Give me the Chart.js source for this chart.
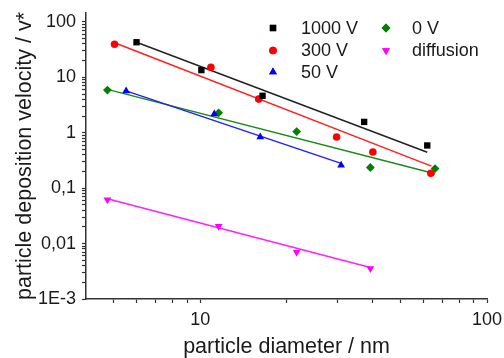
<!DOCTYPE html>
<html>
<head>
<meta charset="utf-8">
<script src="https://cdn.jsdelivr.net/npm/chart.js@4"></script>
<style>
  html, body { margin: 0; padding: 0; background: #fff; }
  #wrap { width: 504px; height: 358px; }
</style>
</head>
<body>
<div id="wrap"><canvas id="chart" width="504" height="358"></canvas></div>
<script>
// measured points (particle diameter in nm, deposition velocity / v*)
const x1000 = [6.0, 10.1, 16.5, 37.3, 61.9];
const y1000 = [43, 13.5, 4.65, 1.57, 0.59];
const x300 = [5.03, 10.9, 16.0, 29.9, 40.0, 63.7];
const y300 = [39.5, 15.2, 4.05, 0.84, 0.45, 0.186];
const x50 = [5.52, 11.2, 16.2, 31.0];
const y50 = [5.7, 2.17, 0.84, 0.26];
const x0 = [4.75, 11.6, 21.7, 39.2, 65.9];
const y0 = [5.9, 2.29, 1.05, 0.236, 0.226];
const xDiff = [4.75, 11.6, 21.7, 39.2];
const yDiff = [0.062, 0.0205, 0.0070, 0.00356];

// fitted lines, start and end points
const fitX1000 = [6.0, 61.9];
const fitY1000 = [43, 0.445];
const fitX300 = [5.03, 64.0];
const fitY300 = [42, 0.25];
const fitX50 = [5.52, 31.0];
const fitY50 = [5.7, 0.28];
const fitX0 = [4.75, 65.9];
const fitY0 = [6.07, 0.182];
const fitXDiff = [4.75, 39.2];
const fitYDiff = [0.0645, 0.0037];

const seriesNames = ["1000 V", "300 V", "50 V", "0 V", "diffusion"];

const xTickValues = [10, 100];
const xTickLabels = ["10", "100"];
const yTickValues = [100, 10, 1, 0.1, 0.01, 0.001];
const yTickLabels = ["100", "10", "1", "0,1", "0,01", "1E-3"];

const FONT = "'Liberation Sans', Arial, sans-serif";
const TEXT = "#1a1a1a";

function pts(xs, ys) {
  return xs.map((x, i) => ({ x: x, y: ys[i] }));
}

function labelFor(value, vals, labels) {
  for (let i = 0; i < vals.length; i++) {
    if (Math.abs(Math.log10(value) - Math.log10(vals[i])) < 1e-6) return labels[i];
  }
  return "";
}

// only draw tick marks at 1..9 x 10^n
function niceTick(value, skip) {
  if (skip !== undefined && Math.abs(value - skip) < 1e-9) return false;
  const e = Math.floor(Math.log10(value) + 1e-9);
  const s = value / Math.pow(10, e);
  return Math.abs(s - Math.round(s)) < 1e-6;
}

function markerSet(name, xs, ys, color, style, radius, rotation) {
  return {
    label: name,
    data: pts(xs, ys),
    showLine: false,
    pointStyle: style,
    pointRadius: radius,
    pointHoverRadius: radius,
    pointRotation: rotation || 0,
    pointBackgroundColor: color,
    pointBorderColor: color,
    pointBorderWidth: 0,
    order: 0,
  };
}

function fitSet(xs, ys, color) {
  return {
    label: "fit",
    data: pts(xs, ys),
    showLine: true,
    borderColor: color,
    borderWidth: 1.5,
    pointRadius: 0,
    fill: false,
    order: 1,
  };
}

// legend in two columns inside the plot
const legendPlugin = {
  id: "boxLegend",
  afterDraw(chart) {
    const ctx = chart.ctx;
    const cols = [{ mx: 273, tx: 301 }, { mx: 386, tx: 412 }];
    const rows = [28, 50.5, 72];
    const sets = chart.data.datasets.filter((d) => d.label !== "fit");
    ctx.save();
    ctx.font = "18px " + FONT;
    ctx.textBaseline = "middle";
    ctx.fillStyle = TEXT;
    sets.forEach((d, i) => {
      const col = cols[Math.floor(i / 3)];
      const y = rows[i % 3];
      ctx.fillStyle = d.pointBackgroundColor;
      Chart.helpers.drawPoint(ctx, {
        pointStyle: d.pointStyle,
        radius: d.pointRadius,
        rotation: d.pointRotation,
        borderWidth: 0,
      }, col.mx, y);
      ctx.fill();
      ctx.fillStyle = TEXT;
      ctx.fillText(d.label, col.tx, y + 1);
    });
    ctx.restore();
  },
};

new Chart(document.getElementById("chart"), {
  type: "scatter",
  data: {
    datasets: [
      markerSet(seriesNames[0], x1000, y1000, "#000000", "rect", 4.5),
      markerSet(seriesNames[1], x300, y300, "#ff0000", "circle", 3.8),
      markerSet(seriesNames[2], x50, y50, "#0000ff", "triangle", 4.5),
      markerSet(seriesNames[3], x0, y0, "#008000", "rectRot", 4.4),
      markerSet(seriesNames[4], xDiff, yDiff, "#ff00ff", "triangle", 4.5, 180),
      fitSet(fitX1000, fitY1000, "#222222"),
      fitSet(fitX300, fitY300, "#ff2020"),
      fitSet(fitX50, fitY50, "#2020ff"),
      fitSet(fitX0, fitY0, "#1a8a1a"),
      fitSet(fitXDiff, fitYDiff, "#ff20ff"),
    ],
  },
  options: {
    responsive: false,
    animation: false,
    events: [],
    layout: { padding: { top: 13, right: 17, left: 0, bottom: 0 } },
    plugins: {
      legend: { display: false },
      tooltip: { enabled: false },
    },
    scales: {
      x: {
        type: "logarithmic",
        min: 4,
        max: 100,
        afterFit: (s) => {
          s.height = 59;
          s.paddingLeft = 0;
          s.paddingRight = 0;
        },
        border: { display: true, color: "#333333", width: 1.5 },
        grid: {
          drawOnChartArea: false,
          drawTicks: true,
          tickLength: 4,
          tickWidth: 1.2,
          tickColor: (c) => (c.tick && niceTick(c.tick.value, 4) ? "#333333" : "rgba(0,0,0,0)"),
        },
        ticks: {
          autoSkip: false,
          maxRotation: 0,
          padding: 6,
          color: TEXT,
          font: { family: FONT, size: 18 },
          callback: (v) => labelFor(v, xTickValues, xTickLabels),
        },
        title: {
          display: true,
          text: "particle diameter / nm",
          color: TEXT,
          font: { family: FONT, size: 21.5, lineHeight: 1 },
          padding: { top: 0, bottom: 0 },
        },
      },
      y: {
        type: "logarithmic",
        min: 0.001,
        max: 145,
        afterFit: (s) => {
          s.width = 86;
          s.paddingTop = 0;
          s.paddingBottom = 0;
        },
        border: { display: true, color: "#333333", width: 1.5 },
        grid: {
          drawOnChartArea: false,
          drawTicks: true,
          tickLength: 4,
          tickWidth: 1.2,
          tickColor: (c) => (c.tick && niceTick(c.tick.value) ? "#333333" : "rgba(0,0,0,0)"),
        },
        ticks: {
          autoSkip: false,
          padding: 6,
          color: TEXT,
          font: { family: FONT, size: 18 },
          callback: (v) => labelFor(v, yTickValues, yTickLabels),
        },
        title: {
          display: true,
          text: "particle deposition velocity / v*",
          color: TEXT,
          font: { family: FONT, size: 21.5, lineHeight: 1 },
          padding: { top: 14, bottom: 0 },
        },
      },
    },
  },
  plugins: [legendPlugin],
});
</script>
</body>
</html>
